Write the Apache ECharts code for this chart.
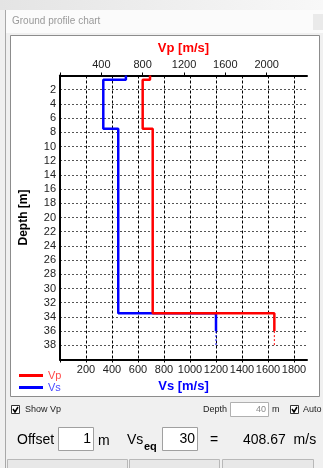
<!DOCTYPE html>
<html><head><meta charset="utf-8">
<script src="https://cdn.jsdelivr.net/npm/echarts@6/dist/echarts.min.js"></script>
<style>html,body{margin:0;padding:0;background:#f0f0f0}#c{width:323px;height:468px}</style>
</head><body><div id="c"></div>
<script>
// ---- data ----
const layerDepths = [0, 0.6, 7.5, 33.5, 36];      // layer boundaries [m]
const vpValues = [871, 800, 897, 2074];           // Vp per layer [m/s]
const vsValues = [507, 333, 448, 1200];           // Vs per layer [m/s]
const extDepths = [36, 38.2];                     // dashed continuation below last layer
const vsTickLabels = [200, 400, 600, 800, 1000, 1200, 1400, 1600, 1800];
const vpTickLabels = [400, 800, 1200, 1600, 2000];
const depthTickLabels = [2,4,6,8,10,12,14,16,18,20,22,24,26,28,30,32,34,36,38];

function steps(vals) {
  const pts = [];
  vals.forEach((v, i) => { pts.push([v, layerDepths[i]]); pts.push([v, layerDepths[i + 1]]); });
  return pts;
}
function ext(vals) {
  const v = vals[vals.length - 1];
  return extDepths.map(d => [v, d]);
}

const FF = '"Liberation Sans", Arial, sans-serif';
const chart = echarts.init(document.getElementById('c'));

const chrome = [
  { type: 'rect', shape: { x: 0, y: 0, width: 323, height: 468 }, style: { fill: '#f0f0f0' }, z: -20 },
  { type: 'rect', shape: { x: 0, y: 0, width: 323, height: 10 },
    style: { fill: new echarts.graphic.LinearGradient(0, 0, 1, 0, [{ offset: 0, color: '#e4e4e4' }, { offset: 1, color: '#f8f8f8' }]) }, z: -19 },
  { type: 'rect', shape: { x: 6, y: 10, width: 317, height: 23 }, style: { fill: '#fbfbfb' }, z: -19 },
  { type: 'rect', shape: { x: 313, y: 14, width: 10, height: 16 }, style: { fill: '#eaeaea' }, z: -18 },
  { type: 'line', shape: { x1: 5.5, y1: 10, x2: 5.5, y2: 468 }, style: { stroke: '#a8a8a8', lineWidth: 1 }, z: -18 },
  { type: 'text', x: 12, y: 21, style: { text: 'Ground profile chart', fill: '#9a9a9a', font: '10px ' + FF, verticalAlign: 'middle' }, z: -18 },
  { type: 'rect', shape: { x: 10.5, y: 35.5, width: 309, height: 361 }, style: { fill: '#ffffff', stroke: '#8c8c8c', lineWidth: 1 }, z: -18 },
  // Show Vp checkbox
  { type: 'rect', shape: { x: 11.5, y: 405.5, width: 8, height: 8 }, style: { fill: '#fff', stroke: '#333', lineWidth: 1 }, z: -17 },
  { type: 'polyline', shape: { points: [[13, 409], [15, 412], [18, 407]] }, style: { stroke: '#000', lineWidth: 1.5, fill: null }, z: -16 },
  { type: 'text', x: 25, y: 410, style: { text: 'Show Vp', fill: '#222', font: '9px ' + FF, verticalAlign: 'middle' }, z: -16 },
  // Depth
  { type: 'text', x: 203, y: 410, style: { text: 'Depth', fill: '#222', font: '9px ' + FF, verticalAlign: 'middle' }, z: -16 },
  { type: 'rect', shape: { x: 230.5, y: 402.5, width: 38, height: 14 }, style: { fill: '#fff', stroke: '#b0b0b0', lineWidth: 1 }, z: -17 },
  { type: 'text', x: 266, y: 410, style: { text: '40', fill: '#888', font: '9px ' + FF, verticalAlign: 'middle', align: 'right' }, z: -16 },
  { type: 'text', x: 272, y: 410, style: { text: 'm', fill: '#222', font: '9px ' + FF, verticalAlign: 'middle' }, z: -16 },
  { type: 'rect', shape: { x: 290.5, y: 405.5, width: 8, height: 8 }, style: { fill: '#fff', stroke: '#333', lineWidth: 1 }, z: -17 },
  { type: 'polyline', shape: { points: [[292, 409], [294, 412], [297, 407]] }, style: { stroke: '#000', lineWidth: 1.5, fill: null }, z: -16 },
  { type: 'text', x: 303, y: 410, style: { text: 'Auto', fill: '#222', font: '9px ' + FF, verticalAlign: 'middle' }, z: -16 },
  // Offset row
  { type: 'text', x: 17, y: 440, style: { text: 'Offset', fill: '#000', font: '14px ' + FF, verticalAlign: 'middle' }, z: -16 },
  { type: 'rect', shape: { x: 58.5, y: 427.5, width: 35, height: 23 }, style: { fill: '#fff', stroke: '#a0a0a0', lineWidth: 1 }, z: -17 },
  { type: 'text', x: 91, y: 439, style: { text: '1', fill: '#000', font: '14px ' + FF, verticalAlign: 'middle', align: 'right' }, z: -16 },
  { type: 'text', x: 98, y: 441, style: { text: 'm', fill: '#000', font: '14px ' + FF, verticalAlign: 'middle' }, z: -16 },
  { type: 'text', x: 127, y: 440, style: { text: 'Vs', fill: '#000', font: '14px ' + FF, verticalAlign: 'middle' }, z: -16 },
  { type: 'text', x: 144, y: 447, style: { text: 'eq', fill: '#000', font: 'bold 11px ' + FF, verticalAlign: 'middle' }, z: -16 },
  { type: 'rect', shape: { x: 162.5, y: 427.5, width: 35, height: 23 }, style: { fill: '#fff', stroke: '#a0a0a0', lineWidth: 1 }, z: -17 },
  { type: 'text', x: 195, y: 439, style: { text: '30', fill: '#000', font: '14px ' + FF, verticalAlign: 'middle', align: 'right' }, z: -16 },
  { type: 'text', x: 210, y: 440, style: { text: '=', fill: '#000', font: '14px ' + FF, verticalAlign: 'middle' }, z: -16 },
  { type: 'text', x: 243, y: 440, style: { text: '408.67  m/s', fill: '#000', font: '14px ' + FF, verticalAlign: 'middle' }, z: -16 },
  // bottom buttons
  { type: 'rect', shape: { x: 7.5, y: 459.5, width: 120, height: 12 }, style: { fill: '#e8e8e8', stroke: '#b8b8b8', lineWidth: 1 }, z: -17 },
  { type: 'rect', shape: { x: 129.5, y: 459.5, width: 90, height: 12 }, style: { fill: '#e8e8e8', stroke: '#b8b8b8', lineWidth: 1 }, z: -17 },
  { type: 'rect', shape: { x: 222.5, y: 459.5, width: 91, height: 12 }, style: { fill: '#e8e8e8', stroke: '#b8b8b8', lineWidth: 1 }, z: -17 }
];

const labelStyle = { color: '#222', fontSize: 11, fontFamily: FF };

chart.setOption({
  animation: false,
  backgroundColor: '#f0f0f0',
  graphic: { elements: chrome },
  grid: { left: 60, right: 16, top: 75.5, bottom: 108.5, containLabel: false },
  legend: {
    orient: 'vertical', left: 14, top: 365, itemWidth: 24, itemHeight: 3, itemGap: 1, icon: 'rect',
    textStyle: { fontSize: 11, fontFamily: FF },
    data: [{ name: 'Vp', textStyle: { color: '#ff4a4a' } }, { name: 'Vs', textStyle: { color: '#4a4aff' } }]
  },
  xAxis: [
    {
      type: 'value', position: 'bottom', min: 0, max: 1900, interval: 200,
      axisLine: { show: true, onZero: false, lineStyle: { color: '#000', width: 2 } },
      axisTick: { show: true, length: 3, lineStyle: { color: '#000' } },
      axisLabel: Object.assign({ margin: 5, showMaxLabel: false, formatter: v => vsTickLabels.includes(v) ? String(v) : '' }, labelStyle),
      splitLine: { show: true, showMinLine: false, showMaxLine: false, lineStyle: { color: '#000', type: [3, 2], width: 1 } },
      name: 'Vs [m/s]', nameLocation: 'middle', nameGap: 20,
      nameTextStyle: { color: '#0000ff', fontWeight: 'bold', fontSize: 13, fontFamily: FF }
    },
    {
      type: 'value', position: 'top', min: 0, max: 2390, interval: 400,
      axisLine: { show: true, onZero: false, lineStyle: { color: '#000', width: 2 } },
      axisTick: { show: true, length: 3, lineStyle: { color: '#000' } },
      axisLabel: Object.assign({ margin: 5, showMaxLabel: false, formatter: v => vpTickLabels.includes(v) ? String(v) : '' }, labelStyle),
      splitLine: { show: false },
      name: 'Vp [m/s]', nameLocation: 'middle', nameGap: 20,
      nameTextStyle: { color: '#ff0000', fontWeight: 'bold', fontSize: 13, fontFamily: FF }
    }
  ],
  yAxis: {
    type: 'value', inverse: true, min: 0, max: 40, interval: 2,
    axisLine: { show: true, onZero: false, lineStyle: { color: '#000', width: 2 } },
    axisTick: { show: false },
    axisLabel: Object.assign({ margin: 4, formatter: v => depthTickLabels.includes(v) ? String(v) : '' }, labelStyle),
    splitLine: { show: true, showMinLine: false, showMaxLine: false, lineStyle: { color: '#555', type: [2, 2], width: 1 } },
    name: 'Depth [m]', nameLocation: 'middle', nameGap: 30, nameRotate: 90,
    nameTextStyle: { color: '#000', fontWeight: 'bold', fontSize: 12, fontFamily: FF }
  },
  series: [
    { name: 'Vs', type: 'line', xAxisIndex: 0, data: steps(vsValues), symbol: 'none', z: 3,
      lineStyle: { color: '#0000ff', width: 2.5 }, itemStyle: { color: '#0000ff' } },
    { name: 'VsExt', type: 'line', xAxisIndex: 0, data: ext(vsValues), symbol: 'none', z: 3,
      lineStyle: { color: '#0000ff', width: 1, type: [2, 2] }, itemStyle: { color: '#0000ff' } },
    { name: 'Vp', type: 'line', xAxisIndex: 1, data: steps(vpValues), symbol: 'none', z: 4,
      lineStyle: { color: '#ff0000', width: 2.5 }, itemStyle: { color: '#ff0000' } },
    { name: 'VpExt', type: 'line', xAxisIndex: 1, data: ext(vpValues), symbol: 'none', z: 4,
      lineStyle: { color: '#ff0000', width: 1, type: [2, 2] }, itemStyle: { color: '#ff0000' } }
  ]
});
</script>
</body></html>
